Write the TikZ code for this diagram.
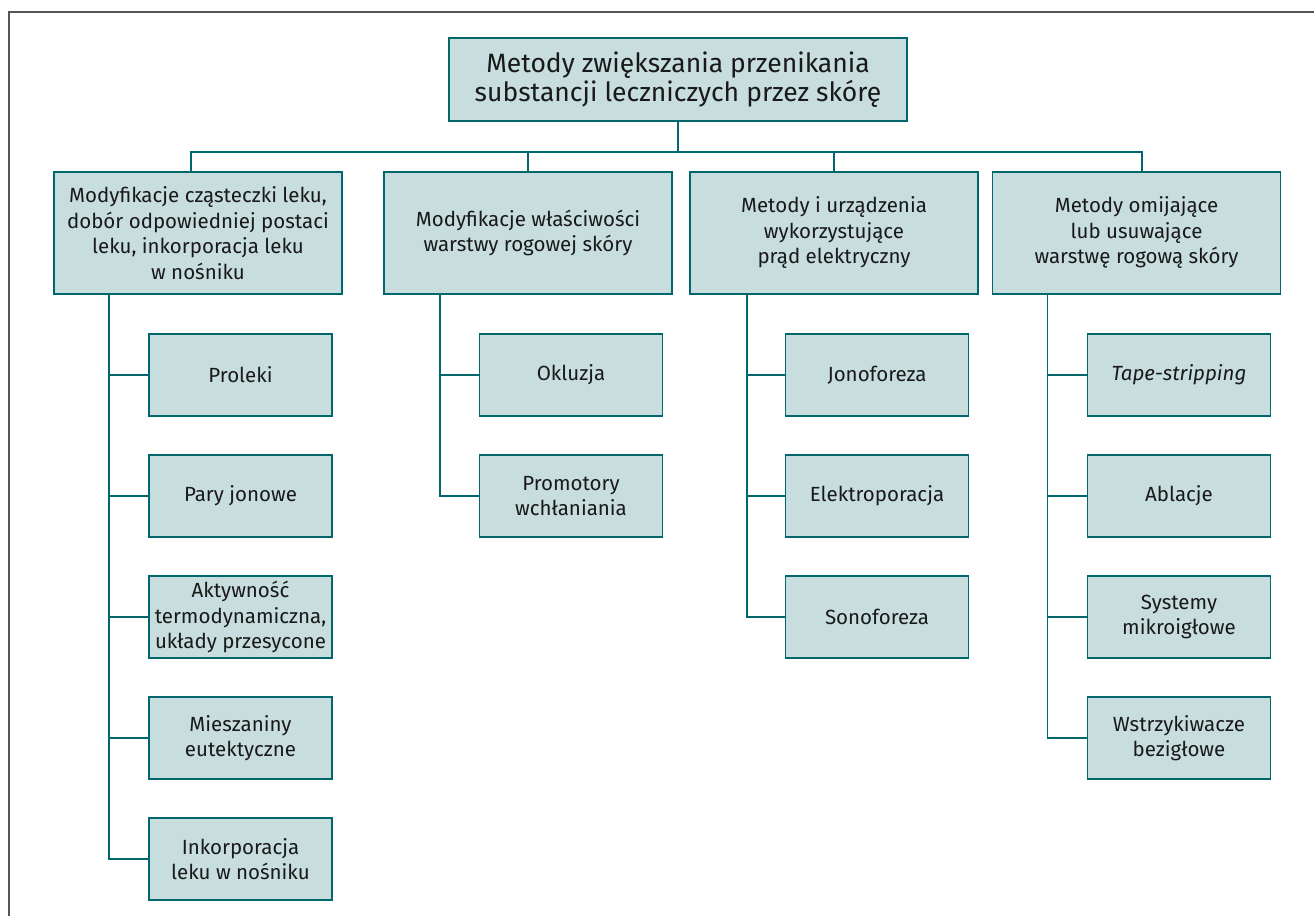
\documentclass[tikz,border=0pt]{standalone}
\usepackage{fontspec}
\setmainfont{Fira Sans}
\usetikzlibrary{calc}

\definecolor{tealline}{HTML}{00676D}
\definecolor{boxfill}{HTML}{C8DDDD}
\definecolor{framegray}{HTML}{555555}

\tikzset{
  box/.style={draw=tealline, fill=boxfill, line width=1.9pt, align=center,
    minimum width=288pt, minimum height=122pt, inner sep=0pt, text=black!90,
    font=\fontsize{20.5}{25.5}\selectfont},
  rootbox/.style={box, minimum width=458pt, minimum height=83pt,
    font=\fontsize{26.5}{29.5}\selectfont},
  leaf/.style={box, minimum width=183pt, minimum height=82pt},
  link/.style={draw=tealline, line width=1.8pt}
}

\begin{document}
\begin{tikzpicture}[x=1pt, y=-1pt]
\useasboundingbox (0,0) rectangle (1314,916);
\draw [framegray, line width=1.3pt] (9,916) -- (9,12) -- (1314,12);

% root and first level
\node [rootbox] (top) at (678,79.5) {Metody zwiększania przenikania\\substancji leczniczych przez skórę};
\node [box] (m1) at (198,233) {Modyfikacje cząsteczki leku,\\dobór odpowiedniej postaci\\leku, inkorporacja leku\\w nośniku};
\node [box] (m2) at (528,233) {Modyfikacje właściwości\\warstwy rogowej skóry};
\node [box] (m3) at (834,233) {Metody i urządzenia\\wykorzystujące\\prąd elektryczny};
\node [box] (m4) at (1136.5,233) {Metody omijające\\lub usuwające\\warstwę rogową skóry};

% second level
\node [leaf] (c11) at (240.5,375) {Proleki};
\node [leaf] (c12) at (240.5,496) {Pary jonowe};
\node [leaf] (c13) at (240.5,617) {Aktywność\\termodynamiczna,\\układy przesycone};
\node [leaf] (c14) at (240.5,738) {Mieszaniny\\eutektyczne};
\node [leaf] (c15) at (240.5,859) {Inkorporacja\\leku w nośniku};

\node [leaf] (c21) at (571,375) {Okluzja};
\node [leaf] (c22) at (571,496) {Promotory\\wchłaniania};

\node [leaf] (c31) at (877,375) {Jonoforeza};
\node [leaf] (c32) at (877,496) {Elektroporacja};
\node [leaf] (c33) at (877,617) {Sonoforeza};

\node [leaf] (c41) at (1179,375) {\textit{Tape-stripping}};
\node [leaf] (c42) at (1179,496) {Ablacje};
\node [leaf] (c43) at (1179,617) {Systemy\\mikroigłowe};
\node [leaf] (c44) at (1179,738) {Wstrzykiwacze\\bezigłowe};

% bus
\coordinate (bus) at (0,152);
\coordinate (d1) at ($(m1.north)+(-7,0)$);
\coordinate (d4) at ($(m4.north)+(5.5,0)$);
\draw [link] (top.south) -- (top.south |- bus);
\draw [link] (d1) |- (d4 |- bus) -- (d4);
\draw [link] (m2.north) -- (m2.north |- bus);
\draw [link] (m3.north) -- (m3.north |- bus);

% trunks
\coordinate (t1) at ($(m1.south west)+(56,0)$);
\coordinate (t2) at ($(m2.south west)+(57,0)$);
\coordinate (t3) at ($(m3.south west)+(58,0)$);
\coordinate (t4) at ($(m4.south west)+(56,0)$);
\draw [link] (t1) |- (c15.west);
\draw [link] (t2) |- (c22.west);
\draw [link] (t3) |- (c33.west);
\draw [link] (t4) |- (c44.west);
\foreach \c in {c11,c12,c13,c14} \draw [link] (\c.west) -- (\c.west -| t1);
\draw [link] (c21.west) -- (c21.west -| t2);
\foreach \c in {c31,c32} \draw [link] (\c.west) -- (\c.west -| t3);
\foreach \c in {c41,c42,c43} \draw [link] (\c.west) -- (\c.west -| t4);
\end{tikzpicture}
\end{document}
